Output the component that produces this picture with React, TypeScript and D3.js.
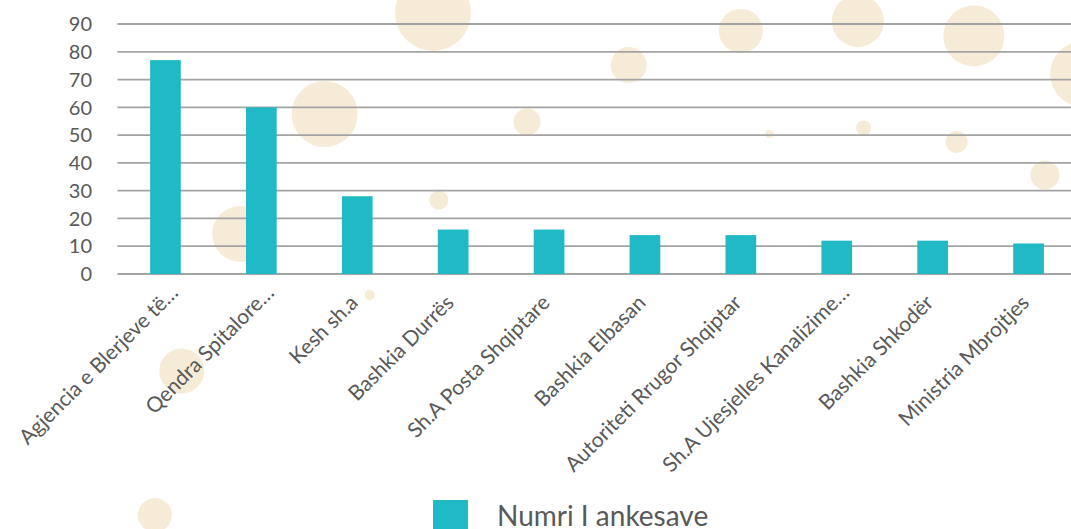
import { useEffect, useRef } from "react";
import * as d3 from "d3";

const categories = [
    "Agjencia e Blerjeve të…",
    "Qendra Spitalore…",
    "Kesh sh.a",
    "Bashkia Durrës",
    "Sh.A Posta Shqiptare",
    "Bashkia Elbasan",
    "Autoriteti Rrugor Shqiptar",
    "Sh.A Ujesjelles Kanalizime…",
    "Bashkia Shkodër",
    "Ministria Mbrojtjes",
];
const values = [77, 60, 28, 16, 16, 14, 14, 12, 12, 11];
const yTicks = [0, 10, 20, 30, 40, 50, 60, 70, 80, 90];
const seriesName = "Numri I ankesave";

// decorative bubbles: x in band units, y in value units, size in px
const bubbleX = [3.29, 2.16, 1.28, 5.33, 4.27, 3.35, 6.5, 6.8, 7.72, 7.78, 8.93, 8.75, 9.67, 10.07, 2.63, 0.67, 0.39];
const bubbleY = [94, 57.6, 14.4, 75.2, 54.7, 26.6, 87.5, 50.4, 91.1, 52.6, 85.7, 47.5, 35.6, 72, -7.6, -34.9, -86.8];
const bubbleR = [38, 33, 28, 18, 13.5, 9.5, 22, 4, 26, 7.5, 30.5, 11, 14.5, 33, 5, 22.5, 17];

export default function App() {
    const ref = useRef<SVGSVGElement | null>(null);

    useEffect(() => {
        if (!ref.current) return;
        document.body.style.margin = "0";

        const width = 1071;
        const height = 529;
        const left = 117.5;
        const right = 1076.5;
        const top = 24;
        const bottom = 274;
        const font = "Lato, 'Open Sans', sans-serif";
        const textColor = "#595959";

        const svg = d3.select(ref.current);
        svg.selectAll("*").remove();
        svg.attr("width", width).attr("height", height);

        const x = d3.scaleBand<string>()
            .domain(categories)
            .range([left, right])
            .paddingInner(0.68)
            .paddingOuter(0.34);
        const y = d3.scaleLinear().domain([0, 90]).range([bottom, top]);
        const bx = d3.scaleLinear().domain([0, 10]).range([left, right]);

        // bubbles
        svg.append("g")
            .selectAll("circle")
            .data(bubbleX)
            .enter()
            .append("circle")
            .attr("cx", (d) => bx(d))
            .attr("cy", (d, i) => y(bubbleY[i]))
            .attr("r", (d, i) => bubbleR[i])
            .attr("fill", "#f6ebd7");

        // gridlines
        svg.append("g")
            .selectAll("line")
            .data(yTicks)
            .enter()
            .append("line")
            .attr("x1", left)
            .attr("x2", right)
            .attr("y1", (d) => y(d))
            .attr("y2", (d) => y(d))
            .attr("stroke", "#a3a3a3")
            .attr("stroke-width", 1.8);

        // y labels
        svg.append("g")
            .selectAll("text")
            .data(yTicks)
            .enter()
            .append("text")
            .attr("x", 92)
            .attr("y", (d) => y(d))
            .attr("dy", "0.36em")
            .attr("text-anchor", "end")
            .attr("font-family", font)
            .attr("font-size", "20px")
            .attr("fill", textColor)
            .text((d) => d);

        // bars
        svg.append("g")
            .selectAll("rect")
            .data(values)
            .enter()
            .append("rect")
            .attr("x", (d, i) => x(categories[i])!)
            .attr("y", (d) => y(d))
            .attr("width", x.bandwidth())
            .attr("height", (d) => y(0) - y(d))
            .attr("fill", "#20b9c6");

        // category labels
        svg.append("g")
            .selectAll("text")
            .data(categories)
            .enter()
            .append("text")
            .attr("transform", (d) => {
                const cx = x(d)! + x.bandwidth() / 2;
                const cut = d.endsWith("…");
                const px = cx + (cut ? 14 : 2);
                const py = cut ? 294 : 304;
                return `translate(${px},${py}) rotate(-45)`;
            })
            .attr("text-anchor", "end")
            .attr("font-family", font)
            .attr("font-size", "21px")
            .attr("fill", textColor)
            .text((d) => d);

        // legend
        const lg = svg.append("g");
        lg.append("rect")
            .attr("x", 433)
            .attr("y", 500)
            .attr("width", 35)
            .attr("height", 35)
            .attr("fill", "#20b9c6");
        lg.append("text")
            .attr("x", 497)
            .attr("y", 526)
            .attr("font-family", font)
            .attr("font-size", "28px")
            .attr("fill", textColor)
            .text(seriesName);
    }, []);

    return <svg ref={ref} style={{ display: "block" }}></svg>;
}
